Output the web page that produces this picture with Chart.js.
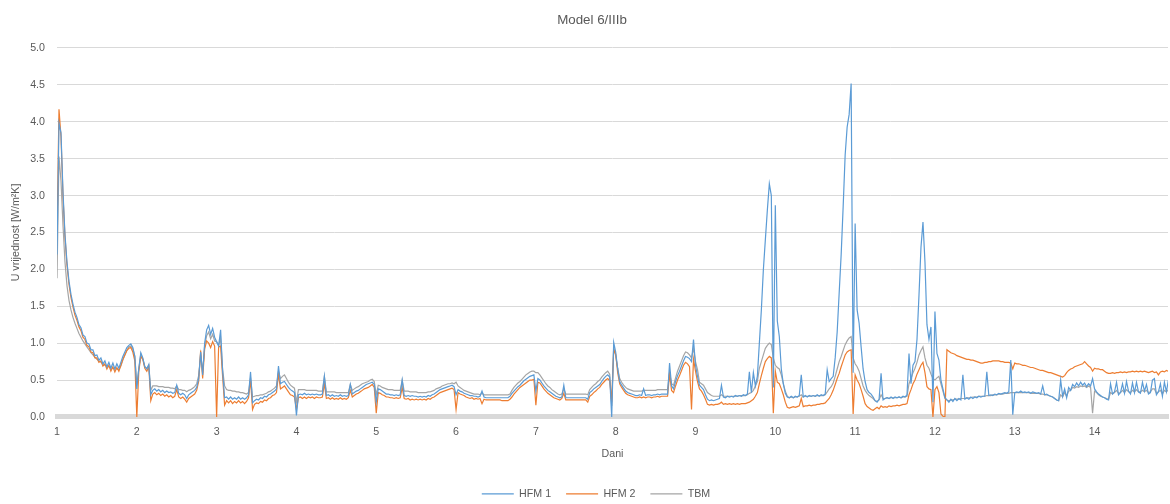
<!DOCTYPE html>
<html>
<head>
<meta charset="utf-8">
<script src="https://cdn.jsdelivr.net/npm/chart.js@4"></script>
<style>
html,body{margin:0;padding:0;background:#fff;}
#wrap{width:1170px;height:504px;}
</style>
</head>
<body>
<div id="wrap"><canvas id="c" width="1170" height="504"></canvas></div>
<script>
const chartTitle = 'Model 6/IIIb';
const xTitle = 'Dani';
const yTitle = 'U vrijednost [W/m²K]';
const seriesNames = ['HFM 1', 'HFM 2', 'TBM'];
const xTicks = [1, 2, 3, 4, 5, 6, 7, 8, 9, 10, 11, 12, 13, 14];
// sampling: first reading at day 1, one reading every 0.025 day
const startDay = 1;
const stepDay = 0.025;

const hfm1 = [
// day 1
2.20,3.98,3.85,3.05,2.47,2.10,1.84,1.66,1.53,1.42,1.35,1.25,1.21,1.11,1.09,1.00,0.99,0.91,0.91,0.83,0.84,0.77,0.80,0.72,0.76,0.68,0.74,0.66,0.73,0.65,0.72,0.66,0.74,0.82,0.88,0.94,0.97,0.99,0.94,0.82,
// day 2
0.38,0.66,0.87,0.80,0.68,0.65,0.71,0.30,0.36,0.38,0.35,0.37,0.34,0.36,0.33,0.35,0.33,0.34,0.32,0.33,0.43,0.32,0.30,0.32,0.30,0.25,0.30,0.32,0.34,0.36,0.40,0.52,0.88,0.57,1.00,1.18,1.24,1.12,1.20,1.08,
// day 3
1.02,0.96,1.18,0.62,0.26,0.27,0.24,0.27,0.24,0.26,0.24,0.27,0.24,0.26,0.24,0.26,0.30,0.61,0.19,0.22,0.24,0.23,0.26,0.25,0.28,0.27,0.30,0.31,0.33,0.35,0.38,0.69,0.45,0.47,0.48,0.44,0.40,0.37,0.35,0.33,
// day 4
0.02,0.30,0.31,0.30,0.32,0.30,0.31,0.30,0.31,0.30,0.31,0.30,0.30,0.31,0.55,0.29,0.30,0.28,0.30,0.28,0.29,0.28,0.30,0.28,0.29,0.28,0.29,0.44,0.31,0.33,0.35,0.36,0.38,0.40,0.42,0.44,0.45,0.46,0.47,0.44,
// day 5
0.20,0.38,0.37,0.35,0.33,0.31,0.31,0.30,0.30,0.29,0.30,0.29,0.30,0.50,0.29,0.28,0.29,0.28,0.29,0.28,0.28,0.27,0.28,0.27,0.28,0.27,0.29,0.28,0.30,0.31,0.33,0.35,0.37,0.38,0.39,0.40,0.41,0.42,0.43,0.41,
// day 6
0.30,0.37,0.35,0.34,0.32,0.31,0.30,0.29,0.29,0.28,0.28,0.27,0.28,0.35,0.27,0.26,0.26,0.26,0.26,0.26,0.26,0.26,0.26,0.26,0.26,0.26,0.26,0.28,0.32,0.35,0.38,0.41,0.43,0.46,0.49,0.51,0.53,0.55,0.56,0.57,
// day 7
0.35,0.52,0.50,0.46,0.42,0.39,0.36,0.34,0.32,0.30,0.28,0.27,0.26,0.27,0.43,0.26,0.26,0.26,0.26,0.26,0.26,0.26,0.26,0.26,0.26,0.26,0.24,0.33,0.35,0.38,0.40,0.42,0.44,0.48,0.52,0.55,0.57,0.54,0.00,1.01,
// day 8
0.88,0.65,0.48,0.43,0.39,0.35,0.33,0.32,0.31,0.30,0.29,0.29,0.30,0.29,0.38,0.29,0.30,0.30,0.29,0.30,0.30,0.31,0.30,0.31,0.31,0.31,0.31,0.73,0.42,0.38,0.48,0.56,0.62,0.69,0.76,0.82,0.81,0.79,0.75,1.05,
// day 9
0.70,0.55,0.43,0.40,0.37,0.30,0.24,0.22,0.23,0.22,0.23,0.24,0.25,0.43,0.27,0.26,0.28,0.27,0.28,0.27,0.29,0.28,0.29,0.28,0.30,0.29,0.31,0.61,0.33,0.60,0.42,0.55,1.00,1.45,1.99,2.40,2.80,3.16,3.00,0.40,
// day 10
2.87,1.30,1.09,0.65,0.45,0.32,0.27,0.26,0.28,0.26,0.28,0.27,0.29,0.57,0.27,0.29,0.27,0.29,0.28,0.29,0.28,0.30,0.28,0.30,0.29,0.31,0.64,0.48,0.52,0.55,0.80,1.15,1.68,2.20,2.85,3.55,3.93,4.10,4.52,0.60,
// day 11
2.62,1.45,1.27,0.95,0.65,0.48,0.37,0.33,0.31,0.27,0.22,0.20,0.24,0.59,0.23,0.25,0.26,0.25,0.27,0.25,0.27,0.26,0.27,0.26,0.28,0.27,0.30,0.86,0.45,0.70,0.75,1.05,1.65,2.30,2.64,2.10,1.25,1.05,1.22,0.20,
// day 12
1.43,0.86,0.77,0.50,0.38,0.26,0.23,0.20,0.24,0.21,0.25,0.22,0.25,0.23,0.57,0.24,0.26,0.24,0.27,0.25,0.27,0.26,0.28,0.27,0.28,0.28,0.61,0.29,0.30,0.29,0.31,0.30,0.32,0.31,0.32,0.33,0.32,0.34,0.77,0.03,
// day 13
0.33,0.34,0.33,0.35,0.33,0.34,0.33,0.34,0.32,0.34,0.33,0.32,0.33,0.31,0.42,0.30,0.31,0.29,0.28,0.27,0.25,0.23,0.22,0.50,0.28,0.38,0.26,0.40,0.36,0.44,0.41,0.46,0.42,0.47,0.43,0.46,0.41,0.45,0.42,0.52,
// day 14
0.38,0.34,0.31,0.29,0.27,0.26,0.24,0.23,0.45,0.31,0.34,0.47,0.30,0.33,0.45,0.32,0.48,0.35,0.31,0.46,0.33,0.47,0.34,0.32,0.47,0.35,0.44,0.31,0.33,0.50,0.52,0.30,0.34,0.45,0.28,0.47,0.34,0.50
];

const hfm2 = [
// day 1
2.50,4.17,3.80,3.00,2.44,2.06,1.80,1.62,1.49,1.38,1.31,1.22,1.17,1.08,1.05,0.97,0.95,0.88,0.87,0.80,0.80,0.74,0.76,0.69,0.72,0.65,0.70,0.62,0.68,0.61,0.67,0.62,0.70,0.78,0.84,0.90,0.93,0.94,0.88,0.76,
// day 2
0.00,0.62,0.82,0.78,0.66,0.62,0.68,0.22,0.31,0.33,0.30,0.32,0.29,0.31,0.28,0.30,0.27,0.29,0.26,0.28,0.37,0.27,0.25,0.27,0.24,0.20,0.25,0.27,0.29,0.31,0.36,0.48,0.90,0.52,0.92,1.03,1.00,0.94,1.02,0.96,
// day 3
0.00,0.95,0.96,0.55,0.16,0.22,0.19,0.22,0.18,0.21,0.19,0.22,0.19,0.21,0.18,0.21,0.26,0.50,0.10,0.17,0.19,0.18,0.21,0.20,0.23,0.22,0.25,0.26,0.29,0.30,0.33,0.58,0.38,0.40,0.42,0.38,0.34,0.30,0.29,0.27,
// day 4
0.10,0.26,0.27,0.25,0.27,0.25,0.27,0.26,0.27,0.25,0.27,0.26,0.26,0.27,0.45,0.25,0.26,0.24,0.26,0.24,0.25,0.24,0.26,0.24,0.25,0.24,0.26,0.36,0.27,0.29,0.31,0.32,0.34,0.36,0.38,0.39,0.40,0.42,0.44,0.40,
// day 5
0.05,0.33,0.32,0.30,0.29,0.27,0.27,0.26,0.26,0.25,0.26,0.25,0.26,0.40,0.25,0.24,0.25,0.23,0.24,0.23,0.24,0.23,0.24,0.23,0.24,0.23,0.25,0.24,0.26,0.27,0.29,0.31,0.33,0.34,0.35,0.36,0.37,0.38,0.39,0.37,
// day 6
0.10,0.33,0.31,0.30,0.29,0.27,0.26,0.25,0.26,0.24,0.25,0.24,0.25,0.18,0.24,0.23,0.23,0.23,0.23,0.23,0.23,0.23,0.23,0.22,0.22,0.22,0.22,0.24,0.27,0.31,0.34,0.37,0.40,0.42,0.44,0.46,0.48,0.50,0.50,0.51,
// day 7
0.16,0.47,0.46,0.42,0.38,0.35,0.32,0.30,0.28,0.26,0.25,0.24,0.23,0.25,0.32,0.23,0.23,0.23,0.23,0.23,0.23,0.23,0.23,0.23,0.23,0.23,0.20,0.28,0.30,0.33,0.35,0.38,0.40,0.44,0.47,0.50,0.52,0.49,0.20,0.91,
// day 8
0.85,0.60,0.45,0.40,0.36,0.32,0.30,0.29,0.28,0.27,0.26,0.26,0.27,0.26,0.27,0.26,0.27,0.27,0.26,0.27,0.27,0.28,0.27,0.28,0.28,0.28,0.28,0.58,0.36,0.33,0.42,0.50,0.56,0.63,0.70,0.74,0.72,0.68,0.10,0.78,
// day 9
0.62,0.48,0.38,0.35,0.30,0.24,0.17,0.16,0.17,0.16,0.17,0.17,0.18,0.20,0.17,0.18,0.17,0.18,0.17,0.18,0.17,0.18,0.17,0.18,0.18,0.18,0.19,0.20,0.22,0.24,0.28,0.33,0.45,0.56,0.66,0.75,0.79,0.82,0.80,0.05,
// day 10
0.62,0.47,0.45,0.38,0.30,0.20,0.13,0.12,0.13,0.14,0.13,0.14,0.15,0.25,0.14,0.15,0.15,0.16,0.15,0.16,0.16,0.17,0.17,0.18,0.18,0.19,0.22,0.25,0.30,0.36,0.44,0.52,0.59,0.68,0.76,0.84,0.88,0.90,0.91,0.04,
// day 11
0.57,0.50,0.45,0.37,0.28,0.18,0.14,0.12,0.10,0.09,0.11,0.13,0.11,0.15,0.13,0.14,0.13,0.15,0.14,0.15,0.15,0.16,0.15,0.16,0.17,0.17,0.18,0.30,0.37,0.45,0.50,0.58,0.64,0.70,0.74,0.60,0.41,0.38,0.37,0.00,
// day 12
0.37,0.41,0.33,0.04,0.01,0.00,0.91,0.89,0.87,0.86,0.85,0.83,0.82,0.81,0.80,0.79,0.78,0.78,0.77,0.77,0.76,0.75,0.74,0.73,0.73,0.74,0.74,0.75,0.75,0.76,0.76,0.76,0.76,0.75,0.75,0.74,0.74,0.74,0.73,0.65,
// day 13
0.73,0.72,0.72,0.71,0.70,0.70,0.69,0.68,0.67,0.67,0.66,0.65,0.64,0.63,0.63,0.62,0.61,0.60,0.60,0.59,0.58,0.57,0.56,0.55,0.54,0.56,0.60,0.63,0.65,0.66,0.68,0.69,0.70,0.71,0.72,0.75,0.72,0.69,0.67,0.62,
// day 14
0.66,0.65,0.65,0.64,0.64,0.62,0.60,0.59,0.59,0.60,0.59,0.60,0.60,0.61,0.60,0.61,0.60,0.61,0.61,0.62,0.61,0.62,0.61,0.62,0.61,0.62,0.61,0.60,0.61,0.62,0.60,0.61,0.57,0.61,0.62,0.61,0.63,0.62
];

const tbm = [
// day 1
1.88,3.53,3.20,2.60,2.10,1.78,1.58,1.45,1.35,1.27,1.20,1.13,1.08,1.03,0.99,0.95,0.91,0.87,0.84,0.81,0.78,0.76,0.74,0.72,0.70,0.69,0.68,0.66,0.66,0.65,0.65,0.64,0.69,0.77,0.84,0.90,0.95,0.96,0.92,0.82,
// day 2
0.44,0.65,0.85,0.79,0.68,0.66,0.70,0.36,0.42,0.42,0.42,0.41,0.41,0.41,0.40,0.40,0.40,0.39,0.39,0.38,0.42,0.37,0.37,0.36,0.36,0.34,0.36,0.37,0.39,0.41,0.45,0.56,0.85,0.60,0.97,1.10,1.15,1.06,1.12,1.03,
// day 3
1.02,0.97,1.06,0.65,0.42,0.37,0.36,0.36,0.35,0.35,0.34,0.34,0.33,0.33,0.32,0.31,0.33,0.53,0.27,0.28,0.29,0.29,0.30,0.30,0.31,0.32,0.34,0.35,0.37,0.39,0.42,0.62,0.52,0.55,0.57,0.52,0.47,0.43,0.41,0.39,
// day 4
0.20,0.37,0.37,0.37,0.37,0.36,0.36,0.36,0.36,0.36,0.36,0.35,0.35,0.35,0.55,0.34,0.34,0.34,0.34,0.34,0.33,0.33,0.33,0.33,0.33,0.33,0.33,0.44,0.36,0.38,0.40,0.41,0.43,0.45,0.46,0.47,0.48,0.50,0.51,0.48,
// day 5
0.30,0.43,0.42,0.40,0.39,0.38,0.37,0.37,0.37,0.36,0.36,0.36,0.36,0.50,0.35,0.35,0.35,0.34,0.34,0.34,0.34,0.33,0.33,0.33,0.33,0.33,0.34,0.34,0.35,0.36,0.38,0.39,0.40,0.42,0.43,0.44,0.45,0.45,0.46,0.45,
// day 6
0.47,0.42,0.40,0.38,0.36,0.35,0.34,0.33,0.32,0.31,0.31,0.31,0.30,0.32,0.30,0.30,0.30,0.30,0.30,0.30,0.30,0.30,0.30,0.30,0.30,0.30,0.30,0.31,0.36,0.40,0.43,0.46,0.48,0.51,0.54,0.57,0.59,0.61,0.62,0.62,
// day 7
0.60,0.60,0.57,0.53,0.49,0.45,0.42,0.40,0.37,0.35,0.33,0.31,0.30,0.31,0.38,0.31,0.31,0.31,0.31,0.31,0.31,0.31,0.31,0.31,0.31,0.31,0.30,0.37,0.40,0.43,0.45,0.48,0.50,0.54,0.57,0.60,0.62,0.58,0.15,0.95,
// day 8
0.83,0.66,0.52,0.47,0.43,0.40,0.38,0.37,0.36,0.35,0.35,0.35,0.35,0.35,0.36,0.36,0.36,0.36,0.36,0.36,0.36,0.37,0.37,0.37,0.37,0.37,0.37,0.60,0.45,0.43,0.53,0.62,0.69,0.76,0.83,0.88,0.87,0.84,0.80,0.93,
// day 9
0.75,0.64,0.47,0.45,0.43,0.38,0.33,0.31,0.29,0.28,0.28,0.28,0.28,0.30,0.28,0.28,0.28,0.28,0.28,0.28,0.28,0.28,0.29,0.29,0.29,0.29,0.30,0.32,0.33,0.36,0.42,0.48,0.66,0.75,0.84,0.93,0.97,1.00,0.98,0.80,
// day 10
0.70,0.67,0.65,0.57,0.45,0.35,0.28,0.26,0.27,0.26,0.27,0.27,0.28,0.30,0.27,0.28,0.28,0.28,0.28,0.29,0.28,0.29,0.29,0.29,0.29,0.30,0.34,0.38,0.41,0.46,0.55,0.65,0.75,0.82,0.90,0.98,1.03,1.07,1.09,0.80,
// day 11
0.72,0.68,0.62,0.52,0.42,0.36,0.32,0.29,0.27,0.25,0.22,0.21,0.23,0.30,0.25,0.25,0.26,0.25,0.26,0.26,0.26,0.26,0.27,0.26,0.27,0.27,0.28,0.45,0.52,0.60,0.66,0.74,0.84,0.90,0.95,0.80,0.70,0.66,0.58,0.52,
// day 12
0.50,0.53,0.55,0.45,0.35,0.25,0.23,0.22,0.23,0.23,0.24,0.24,0.24,0.25,0.25,0.25,0.26,0.26,0.26,0.27,0.27,0.27,0.28,0.28,0.28,0.28,0.29,0.29,0.29,0.30,0.30,0.30,0.31,0.31,0.31,0.32,0.32,0.32,0.33,0.33,
// day 13
0.33,0.33,0.33,0.33,0.33,0.33,0.33,0.33,0.32,0.32,0.32,0.32,0.32,0.31,0.31,0.30,0.30,0.29,0.28,0.27,0.25,0.23,0.22,0.30,0.27,0.33,0.28,0.35,0.36,0.40,0.39,0.41,0.40,0.42,0.41,0.42,0.40,0.42,0.40,0.05,
// day 14
0.35,0.33,0.30,0.28,0.27,0.26,0.25,0.24,0.33,0.31,0.33,0.36,0.32,0.33,0.36,0.33,0.37,0.34,0.33,0.36,0.34,0.37,0.34,0.34,0.36,0.34,0.36,0.33,0.34,0.38,0.38,0.32,0.34,0.36,0.31,0.36,0.34,0.37
];

const FONT = '"Liberation Sans", Arial, Helvetica, sans-serif';
const TEXT = '#595959';
const GRID = '#D9D9D9';
const SMALL = 10.67;

const days = hfm1.map((_, i) => Math.round((startDay + i * stepDay) * 1000) / 1000);
const toPoints = arr => arr.map((v, i) => ({ x: days[i], y: v }));

// nudges title and legend horizontally to where the original puts them
const nudge = {
  id: 'nudge',
  beforeDraw(chart) {
    if (chart.titleBlock && !chart.titleBlock._nudged) {
      chart.titleBlock.left += 8; chart.titleBlock.right += 8; chart.titleBlock._nudged = true;
    }
    if (chart.legend && !chart.legend._nudged) {
      chart.legend.left += 12; chart.legend.right += 12; chart.legend._nudged = true;
    }
  }
};

new Chart(document.getElementById('c'), {
  type: 'line',
  data: {
    datasets: [
      { label: seriesNames[0], data: toPoints(hfm1), borderColor: '#5B9BD5', backgroundColor: '#5B9BD5', borderWidth: 1.2, pointRadius: 0, tension: 0, fill: false },
      { label: seriesNames[1], data: toPoints(hfm2), borderColor: '#ED7D31', backgroundColor: '#ED7D31', borderWidth: 1.2, pointRadius: 0, tension: 0, fill: false },
      { label: seriesNames[2], data: toPoints(tbm), borderColor: '#A5A5A5', backgroundColor: '#A5A5A5', borderWidth: 1.2, pointRadius: 0, tension: 0, fill: false }
    ]
  },
  plugins: [nudge],
  options: {
    responsive: false,
    animation: false,
    devicePixelRatio: 1,
    layout: { padding: { left: 0, right: 2, top: 0, bottom: -5.3 } },
    plugins: {
      title: { display: true, text: chartTitle, color: TEXT, font: { family: FONT, size: 13.33, weight: 'normal' }, padding: { top: 12, bottom: 20 } },
      legend: {
        position: 'bottom',
        labels: { usePointStyle: true, pointStyle: 'line', pointStyleWidth: 32, color: TEXT, font: { family: FONT, size: SMALL }, padding: 15 }
      },
      tooltip: { enabled: false }
    },
    scales: {
      x: {
        type: 'linear', min: 1, max: 14.92,
        afterBuildTicks: s => { s.ticks = xTicks.map(v => ({ value: v })); },
        ticks: { color: TEXT, font: { family: FONT, size: SMALL }, padding: 8.6, autoSkip: false, maxRotation: 0, callback: v => String(v) },
        grid: { display: false, drawTicks: false },
        border: { display: true, color: GRID, width: 5 },
        title: { display: true, text: xTitle, color: TEXT, font: { family: FONT, size: SMALL }, padding: { top: 4, bottom: 13.3 } },
        afterFit: s => { s.height = 56.7; }
      },
      y: {
        min: 0, max: 5,
        ticks: { stepSize: 0.5, color: TEXT, font: { family: FONT, size: SMALL }, padding: 12, callback: v => Number(v).toFixed(1) },
        grid: { color: GRID, lineWidth: 1, drawTicks: false },
        border: { display: false },
        title: { display: true, text: yTitle, color: TEXT, font: { family: FONT, size: SMALL }, padding: { top: 9.6, bottom: 0 } },
        afterFit: s => { s.width = 57; }
      }
    }
  }
});
</script>
</body>
</html>
